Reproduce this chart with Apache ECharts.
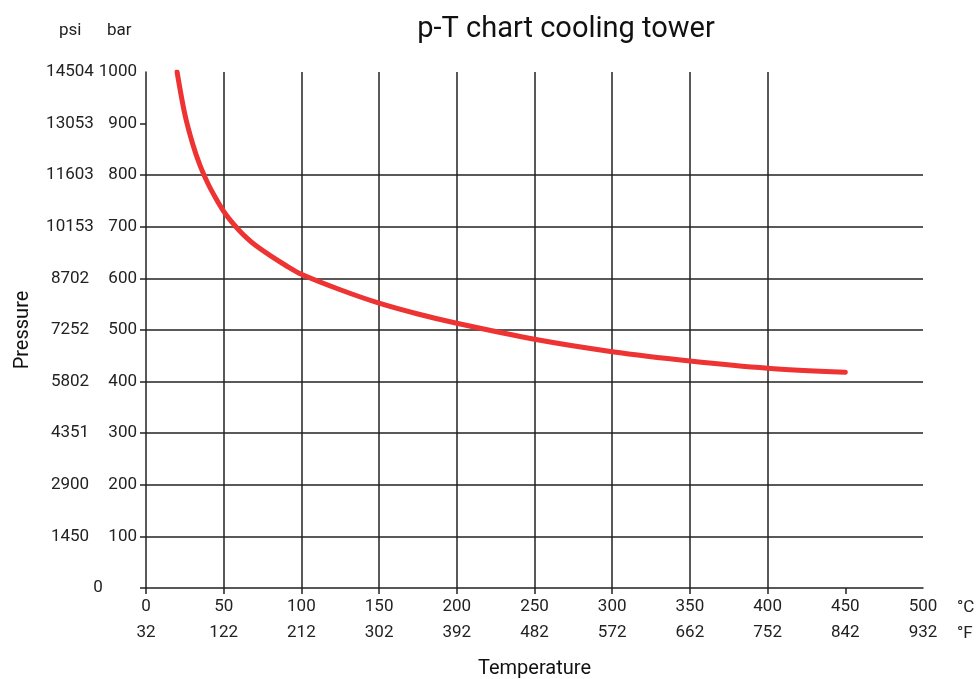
<!DOCTYPE html>
<html>
<head>
<meta charset="utf-8">
<script src="https://cdn.jsdelivr.net/npm/echarts@6/dist/echarts.min.js"></script>
<style>
html,body{margin:0;padding:0;background:#fff;}
#chart{width:978px;height:679px;}
</style>
</head>
<body>
<div id="chart"></div>
<script>
// Curve: temperature (°C) vs pressure (bar)
var temperatureC = [20, 25, 30, 35, 40, 45, 50, 55, 60, 65, 70, 80, 90, 100, 125, 150, 175, 200, 250, 300, 350, 400, 450];
var pressureBar  = [1000, 918, 861, 817, 783, 755, 730, 710, 693, 678, 665, 644, 625, 608, 578, 552, 531, 513, 482, 458, 440, 426, 418];

// Tick labels
var celsiusTicks    = [0, 50, 100, 150, 200, 250, 300, 350, 400, 450, 500];
var fahrenheitTicks = [32, 122, 212, 302, 392, 482, 572, 662, 752, 842, 932];
var barTicks        = [0, 100, 200, 300, 400, 500, 600, 700, 800, 900, 1000];
var psiTicks        = [0, 1450, 2900, 4351, 5802, 7252, 8702, 10153, 11603, 13053, 14504];

var FONT = 'Roboto, "Noto Sans", sans-serif';
var INK = '#222';
var FS = 17;

var curve = temperatureC.map(function (t, i) { return [t, pressureBar[i]]; });

var chart = echarts.init(document.getElementById('chart'));
chart.setOption({
  animation: false,
  backgroundColor: '#fff',
  textStyle: { fontFamily: FONT },
  title: {
    text: 'p-T chart cooling tower',
    left: 561, top: 10, textAlign: 'center',
    textStyle: { fontFamily: FONT, fontSize: 29, fontWeight: 'normal', color: '#111' }
  },
  grid: { left: 146, right: 55, top: 72, bottom: 91, containLabel: false, outerBoundsMode: 'none' },
  xAxis: [{
    type: 'value', min: 0, max: 500, interval: 50, position: 'bottom',
    name: 'Temperature', nameLocation: 'middle', nameGap: 71,
    nameTextStyle: { fontFamily: FONT, fontSize: 20, color: '#111' },
    axisLine: { show: true, lineStyle: { color: INK, width: 1.5 } },
    axisTick: { show: true, length: 6, lineStyle: { color: INK, width: 1.5 },
                customValues: celsiusTicks.slice(0, celsiusTicks.length - 1) },
    axisLabel: { margin: 10, fontSize: FS, color: INK, fontFamily: FONT,
                 formatter: function (v) { return String(v); } },
    splitLine: { show: true, showMinLine: false, showMaxLine: false, lineStyle: { color: INK, width: 1.5 } }
  }, {
    type: 'value', min: 0, max: 500, interval: 50, position: 'bottom', offset: 26,
    axisLine: { show: false }, axisTick: { show: false }, splitLine: { show: false },
    axisLabel: { margin: 10, fontSize: FS, color: INK, fontFamily: FONT,
                 formatter: function (v) { var i = celsiusTicks.indexOf(v); return i >= 0 ? String(fahrenheitTicks[i]) : ''; } }
  }],
  yAxis: [{
    type: 'value', min: 0, max: 1000, interval: 100, position: 'left',
    name: 'Pressure', nameLocation: 'middle', nameGap: 113,
    nameTextStyle: { fontFamily: FONT, fontSize: 20, color: '#111' },
    axisLine: { show: true, lineStyle: { color: INK, width: 1.5 } },
    axisTick: { show: true, length: 6, lineStyle: { color: INK, width: 1.5 },
                customValues: barTicks.slice(0, barTicks.length - 1) },
    axisLabel: { margin: 9, fontSize: FS, color: INK, fontFamily: FONT,
                 formatter: function (v) { return v === 0 ? '' : String(v); } },
    splitLine: { show: true, showMinLine: false, showMaxLine: false, lineStyle: { color: INK, width: 1.5 } }
  }, {
    type: 'value', min: 0, max: 1000, interval: 100, position: 'left', offset: 76,
    axisLine: { show: false }, axisTick: { show: false }, splitLine: { show: false },
    axisLabel: { margin: 0, fontSize: FS, color: INK, fontFamily: FONT, align: 'center',
                 formatter: function (v) {
                   var i = barTicks.indexOf(v);
                   if (i < 0) return '';
                   return v === 0 ? '{z|' + psiTicks[i] + '}' : String(psiTicks[i]);
                 },
                 rich: { z: { fontSize: FS, color: INK, fontFamily: FONT, padding: [0, 0, 0, 56] } } }
  }],
  graphic: [
    { type: 'text', left: 59, top: 22, style: { text: 'psi', fontFamily: FONT, fontSize: FS, fill: INK } },
    { type: 'text', left: 107, top: 22, style: { text: 'bar', fontFamily: FONT, fontSize: FS, fill: INK } },
    { type: 'text', left: 957, top: 599, style: { text: '°C', fontFamily: FONT, fontSize: FS, fill: INK } },
    { type: 'text', left: 957, top: 625, style: { text: '°F', fontFamily: FONT, fontSize: FS, fill: INK } }
  ],
  series: [{
    type: 'line', xAxisIndex: 0, yAxisIndex: 0,
    data: curve, smooth: 0.3, showSymbol: false, symbol: 'none',
    lineStyle: { color: '#ee3333', width: 5, cap: 'round' },
    silent: true
  }]
});
</script>
</body>
</html>
